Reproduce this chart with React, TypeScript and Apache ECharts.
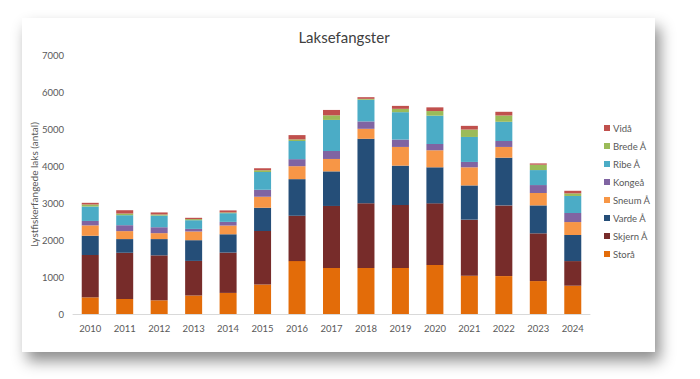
import React, { useEffect, useRef } from "react";
import * as echarts from "echarts";

const years = ["2010","2011","2012","2013","2014","2015","2016","2017","2018","2019","2020","2021","2022","2023","2024"];
const stora = [450, 405, 370, 500, 570, 800, 1430, 1245, 1245, 1245, 1325, 1035, 1025, 890, 765];
const skjern = [1145, 1250, 1215, 935, 1090, 1440, 1225, 1675, 1750, 1700, 1665, 1515, 1910, 1290, 665];
const varde = [520, 370, 440, 560, 495, 630, 990, 935, 1740, 1065, 975, 925, 1290, 755, 705];
const sneum = [280, 215, 160, 235, 235, 300, 350, 335, 270, 505, 460, 490, 290, 335, 350];
const kongea = [120, 160, 160, 70, 100, 190, 190, 215, 200, 200, 170, 145, 160, 215, 245];
const ribe = [390, 270, 315, 235, 235, 480, 490, 840, 585, 740, 765, 675, 520, 405, 460];
const brede = [55, 45, 30, 30, 20, 45, 45, 125, 25, 90, 125, 200, 170, 145, 70];
const vida = [45, 90, 55, 35, 55, 55, 115, 145, 45, 80, 100, 100, 100, 35, 70];

const seriesNames = ["Storå", "Skjern Å", "Varde Å", "Sneum Å", "Kongeå", "Ribe Å", "Brede Å", "Vidå"];
const seriesData = [stora, skjern, varde, sneum, kongea, ribe, brede, vida];
const colors = ["#E36C09", "#772C2A", "#254E78", "#F79646", "#8064A2", "#4BACC6", "#9BBB59", "#C0504D"];

const FONT = "Lato, 'Open Sans', sans-serif";

export default function App() {
  const ref = useRef<HTMLDivElement>(null);
  useEffect(() => {
    document.body.style.margin = "0";
    const chart = echarts.init(ref.current!, undefined, { renderer: "svg" });
    chart.setOption({
      animation: false,
      textStyle: { fontFamily: FONT },
      title: {
        text: "Laksefangster",
        left: 339,
        top: 24,
        textAlign: "center",
        textStyle: { fontFamily: FONT, fontSize: 15, fontWeight: "normal", color: "#404040" },
      },
      legend: {
        orient: "vertical",
        left: 599,
        top: 118,
        itemWidth: 6,
        itemHeight: 6,
        itemGap: 8,
        icon: "rect",
        data: [...seriesNames].reverse(),
        textStyle: { fontFamily: FONT, fontSize: 9.5, color: "#595959", padding: [0, 0, 0, -2] },
      },
      grid: { left: 73, right: 110, top: 55, bottom: 65 },
      xAxis: {
        type: "category",
        data: years,
        axisLine: { lineStyle: { color: "#D9D9D9", width: 1 } },
        axisTick: { show: false },
        axisLabel: { fontFamily: FONT, fontSize: 9.5, color: "#595959", margin: 9 },
      },
      yAxis: {
        type: "value",
        min: 0,
        max: 7000,
        interval: 1000,
        name: "Lystfiskerfangede laks (antal)",
        nameLocation: "middle",
        nameGap: 34,
        nameMoveOverlap: false,
        nameTextStyle: { fontFamily: FONT, fontSize: 10, color: "#595959" },
        axisLine: { show: false },
        axisTick: { show: false },
        splitLine: { show: false },
        axisLabel: { fontFamily: FONT, fontSize: 9.5, color: "#595959", margin: 9, formatter: (v: number) => String(v) },
      },
      series: seriesNames.map((name, i) => ({
        name,
        type: "bar",
        stack: "total",
        barWidth: 17,
        data: seriesData[i],
        itemStyle: { color: colors[i] },
      })),
    });
    return () => chart.dispose();
  }, []);
  return (
    <div style={{ position: "absolute", left: 0, top: 0, width: 700, height: 379, background: "#fff", overflow: "hidden" }}>
      <div
        style={{
          position: "absolute",
          left: 22,
          top: 18,
          width: 633,
          height: 334,
          background: "#fff",
          boxShadow: "5px 9px 14px rgba(0,0,0,0.45)",
        }}
      />
      <div ref={ref} style={{ position: "absolute", left: 0, top: 0, width: 700, height: 379 }} />
    </div>
  );
}
